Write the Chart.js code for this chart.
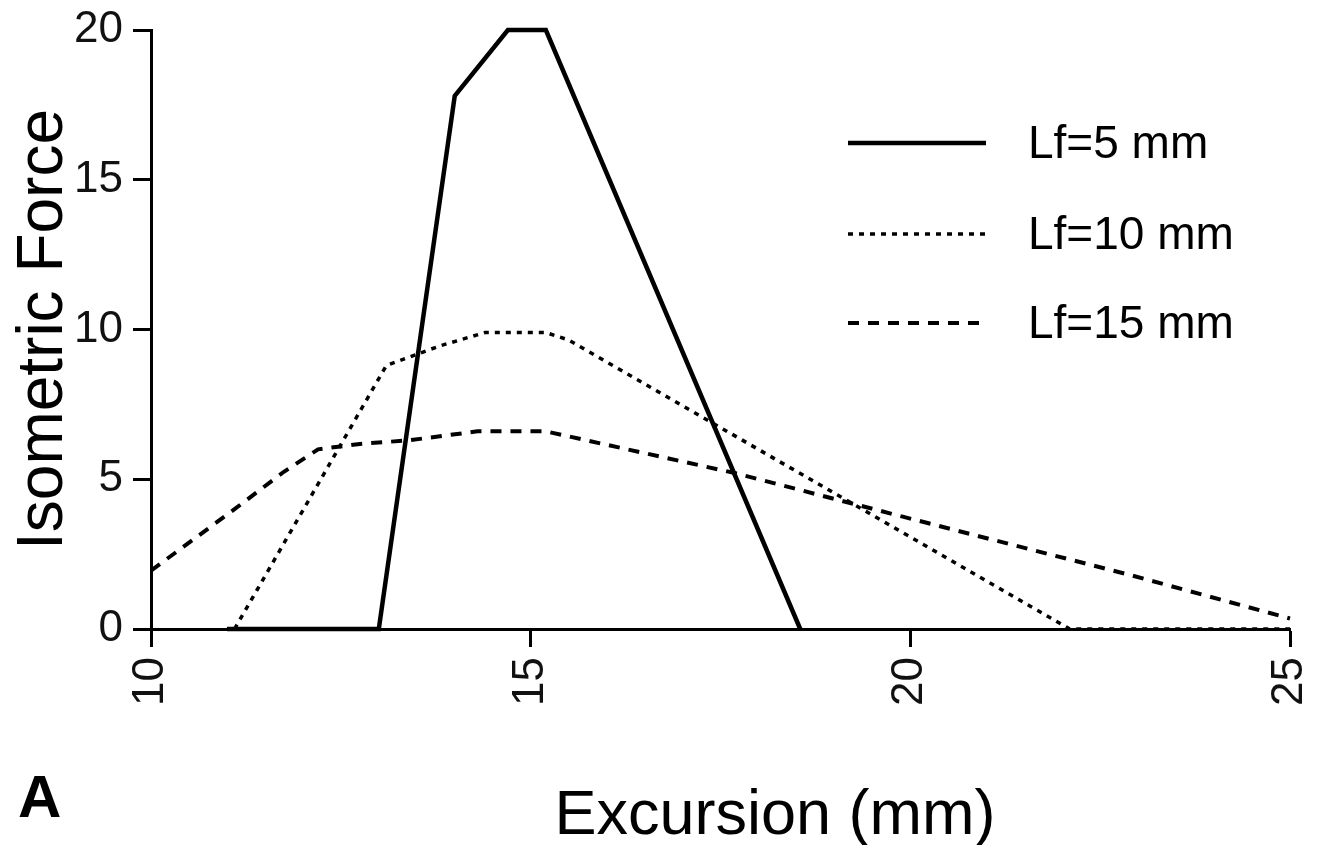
<!DOCTYPE html>
<html lang="en">
<head>
    <meta charset="UTF-8">
    <title>Isometric Force vs Excursion</title>
    <style>
        html, body {
            margin: 0;
            padding: 0;
            background: #fff;
        }
        .chart-container {
            position: relative;
            width: 1319px;
            height: 845px;
        }
    </style>
    <script src="https://cdn.jsdelivr.net/npm/chart.js@4.4.1/dist/chart.umd.min.js"></script>
</head>
<body>
    <div class="chart-container">
        <canvas id="forceChart"></canvas>
    </div>

    <script>
        // Values
        const seriesLabels = ['Lf=5 mm', 'Lf=10 mm', 'Lf=15 mm'];

        const excursion5 = [11, 13, 14, 14.7, 15.2, 18.55];
        const force5 = [0, 0, 17.8, 20, 20, 0];

        const excursion10 = [11.1, 13.1, 13.8, 14.4, 15.2, 15.5, 22.1, 25];
        const force10 = [0, 8.8, 9.45, 9.9, 9.9, 9.65, 0, 0];

        const excursion15 = [10, 11.1, 11.75, 12.2, 12.75, 13.4, 14.3, 15.2, 17.7, 19.9, 22.9, 25];
        const force15 = [1.95, 4.0, 5.25, 6.0, 6.18, 6.3, 6.6, 6.6, 5.2, 3.75, 1.8, 0.35];

        const xTicks = [10, 15, 20, 25];
        const yTicks = [0, 5, 10, 15, 20];

        const FONT = "'Liberation Sans', Arial, sans-serif";

        function toPoints(xs, ys) {
            return xs.map((x, i) => ({ x: x, y: ys[i] }));
        }

        // Legend, panel letter and x-axis title drawn on the canvas
        const annotations = {
            id: 'annotations',
            afterDatasetsDraw(chart) {
                const ctx = chart.ctx;
                ctx.save();
                const rows = [143, 234, 323];
                chart.data.datasets.forEach((ds, i) => {
                    const y = rows[i];
                    ctx.beginPath();
                    ctx.strokeStyle = '#000';
                    ctx.lineWidth = ds.borderWidth;
                    ctx.setLineDash(ds.borderDash || []);
                    ctx.moveTo(848, y);
                    ctx.lineTo(986, y);
                    ctx.stroke();
                    ctx.setLineDash([]);
                    ctx.fillStyle = '#000';
                    ctx.font = '46px ' + FONT;
                    ctx.textBaseline = 'middle';
                    ctx.textAlign = 'left';
                    ctx.fillText(ds.label, 1028, y + 2);
                });

                ctx.font = 'bold 60px ' + FONT;
                ctx.textAlign = 'left';
                ctx.textBaseline = 'alphabetic';
                ctx.fillText('A', 18, 817);

                ctx.font = '63px ' + FONT;
                ctx.textAlign = 'center';
                ctx.fillText('Excursion (mm)', 775, 834);
                ctx.restore();
            }
        };

        function drawChart() {
            const ctx = document.getElementById('forceChart').getContext('2d');
            new Chart(ctx, {
                type: 'line',
                data: {
                    datasets: [{
                        label: seriesLabels[0],
                        data: toPoints(excursion5, force5),
                        borderColor: '#000',
                        borderWidth: 4.5,
                        borderDash: []
                    }, {
                        label: seriesLabels[1],
                        data: toPoints(excursion10, force10),
                        borderColor: '#000',
                        borderWidth: 3.5,
                        borderDash: [5, 6]
                    }, {
                        label: seriesLabels[2],
                        data: toPoints(excursion15, force15),
                        borderColor: '#000',
                        borderWidth: 4,
                        borderDash: [11, 9]
                    }]
                },
                options: {
                    responsive: true,
                    maintainAspectRatio: false,
                    animation: false,
                    layout: {
                        padding: { top: 30, right: 29, left: 0, bottom: 0 }
                    },
                    elements: {
                        point: { radius: 0 },
                        line: { tension: 0, fill: false }
                    },
                    datasets: {
                        line: { clip: 6 }
                    },
                    plugins: {
                        legend: { display: false },
                        tooltip: { enabled: false }
                    },
                    scales: {
                        x: {
                            type: 'linear',
                            min: 10,
                            max: 25,
                            afterFit: scale => {
                                scale.height = 216;
                                scale.paddingLeft = 0;
                                scale.paddingRight = 0;
                            },
                            afterBuildTicks: scale => {
                                scale.ticks = xTicks.map(v => ({ value: v }));
                            },
                            border: { display: true, color: '#000', width: 3 },
                            grid: {
                                drawOnChartArea: false,
                                drawTicks: true,
                                tickLength: 18,
                                tickWidth: 3,
                                color: '#000'
                            },
                            ticks: {
                                minRotation: 90,
                                maxRotation: 90,
                                padding: 10,
                                color: '#111',
                                font: { family: FONT, size: 44 }
                            }
                        },
                        y: {
                            type: 'linear',
                            min: 0,
                            max: 20,
                            afterFit: scale => {
                                scale.width = 151;
                                scale.paddingTop = 0;
                                scale.paddingBottom = 0;
                            },
                            afterBuildTicks: scale => {
                                scale.ticks = yTicks.map(v => ({ value: v }));
                            },
                            border: { display: true, color: '#000', width: 3 },
                            grid: {
                                drawOnChartArea: false,
                                drawTicks: true,
                                tickLength: 18,
                                tickWidth: 3,
                                color: '#000'
                            },
                            ticks: {
                                padding: 10,
                                color: '#111',
                                font: { family: FONT, size: 44 }
                            },
                            title: {
                                display: true,
                                text: 'Isometric Force',
                                color: '#000',
                                padding: { top: 6, bottom: 0 },
                                font: { family: FONT, size: 64 }
                            }
                        }
                    }
                },
                plugins: [annotations]
            });
        }

        window.onload = drawChart;
    </script>
</body>
</html>
